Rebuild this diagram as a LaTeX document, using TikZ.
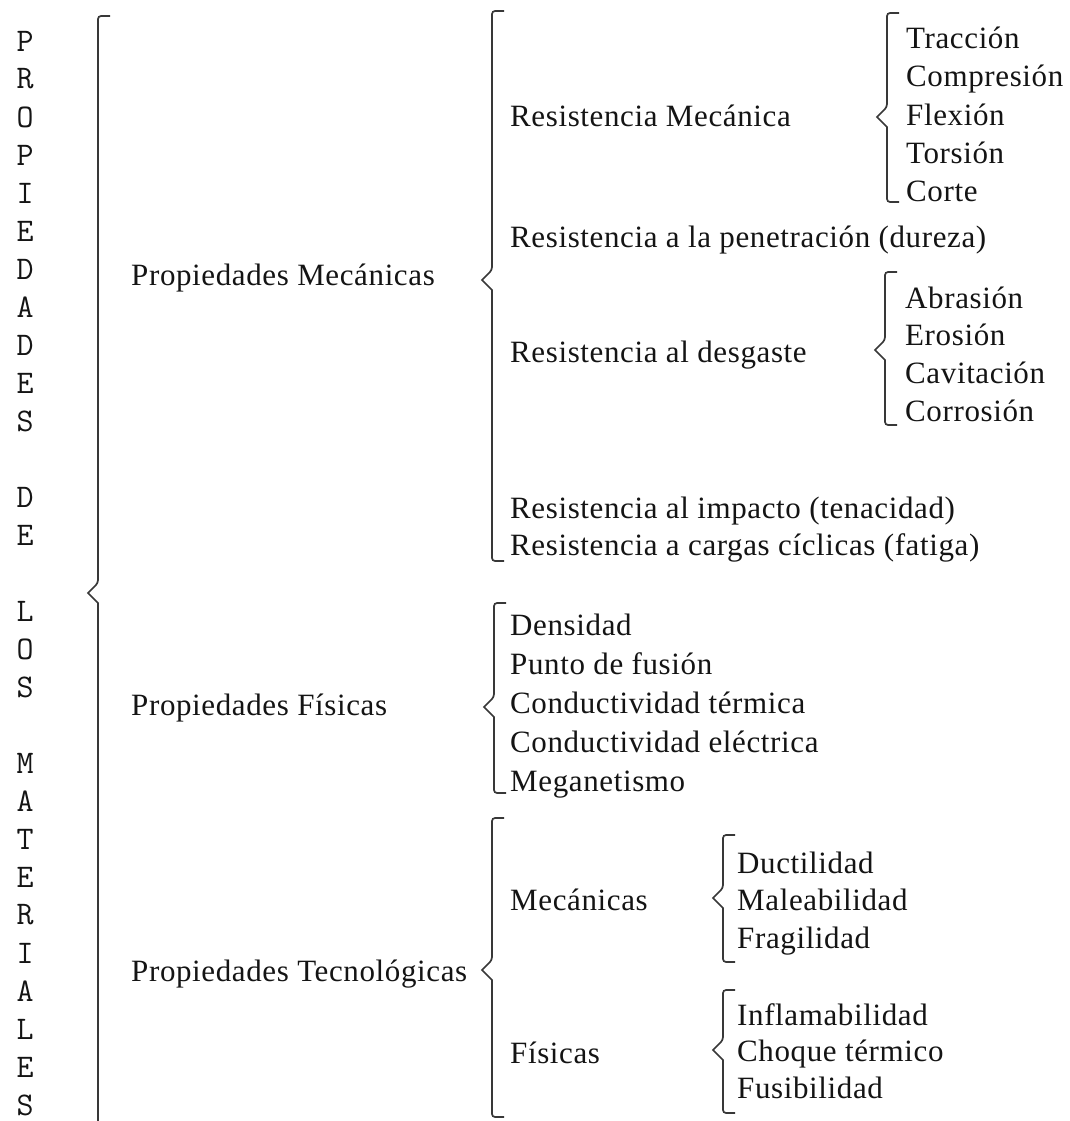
\documentclass[tikz,border=0pt]{standalone}
\usepackage{fontspec}
\setmainfont[LetterSpace=2]{Liberation Serif}
\setmonofont{Latin Modern Mono}
\newcommand\mybrace[4]{% x, top, point y, bottom
  \draw[brc] (#1+12,#2) [rounded corners=3pt] -- (#1,#2) -- (#1,#3-10) [sharp corners] -- (#1-10,#3) -- (#1,#3+10) [rounded corners=3pt] -- (#1,#4) -- (#1+12,#4);}
\begin{document}
\begin{tikzpicture}[x=1pt,y=-1pt,
  lbl/.style={anchor=base west, inner sep=0pt, font=\fontsize{31}{36}\selectfont, text=black!92},
  vl/.style={anchor=center, inner sep=0pt, font=\ttfamily\fontsize{33}{36}\selectfont, text=black!92},
  brc/.style={line width=1.7pt, draw=black!78, line join=miter}]
\useasboundingbox[fill=white] (0,0) rectangle (1070,1121);

% vertical title
\foreach \c [count=\i from 0] in {P,R,O,P,I,E,D,A,D,E,S,{},D,E,{},L,O,S,{},M,A,T,E,R,I,A,L,E,S}
  \node[vl] (v\i) at (25,41+38.0*\i) {\c};

% main brace
\draw[brc] (110,16) [rounded corners=3pt] -- (98,16) -- (98,583) [sharp corners] -- (88,593) -- (98,603) -- (98,1121);

% level 1
\node[lbl] (pm) at (131,285) {Propiedades Mecánicas};
\node[lbl] (pf) at (131,715) {Propiedades Físicas};
\node[lbl] (pt) at (131,981) {Propiedades Tecnológicas};

% mechanical
\mybrace{492}{11}{280}{561}
\node[lbl] (rm) at (510,127) {Resistencia Mecánica};
\node[lbl] (rp) at (510,247) {Resistencia a la penetración (dureza)};
\node[lbl] (rd) at (510,362) {Resistencia al desgaste};
\node[lbl] (ri) at (510,518) {Resistencia al impacto (tenacidad)};
\node[lbl] (rc) at (510,555) {Resistencia a cargas cíclicas (fatiga)};

\mybrace{887}{13}{117}{202}
\node[lbl] (t1) at (906,49) {Tracción};
\node[lbl] (t2) at (906,87) {Compresión};
\node[lbl] (t3) at (906,125) {Flexión};
\node[lbl] (t4) at (906,163) {Torsión};
\node[lbl] (t5) at (906,201) {Corte};

\mybrace{885}{272}{350}{425}
\node[lbl] (d1) at (905,308) {Abrasión};
\node[lbl] (d2) at (905,345) {Erosión};
\node[lbl] (d3) at (905,383) {Cavitación};
\node[lbl] (d4) at (905,421) {Corrosión};

% physical
\mybrace{494}{603}{707}{793}
\node[lbl] (f1) at (510,635) {Densidad};
\node[lbl] (f2) at (510,674) {Punto de fusión};
\node[lbl] (f3) at (510,713) {Conductividad térmica};
\node[lbl] (f4) at (510,752) {Conductividad eléctrica};
\node[lbl] (f5) at (510,791) {Meganetismo};

% technological
\mybrace{492}{818}{970}{1117}
\node[lbl] (tm) at (510,910) {Mecánicas};
\node[lbl] (tf) at (510,1063) {Físicas};

\mybrace{723}{835}{898}{962}
\node[lbl] (m1) at (737,873) {Ductilidad};
\node[lbl] (m2) at (737,910) {Maleabilidad};
\node[lbl] (m3) at (737,948) {Fragilidad};

\mybrace{723}{990}{1050}{1113}
\node[lbl] (p1) at (737,1025) {Inflamabilidad};
\node[lbl] (p2) at (737,1061) {Choque térmico};
\node[lbl] (p3) at (737,1098) {Fusibilidad};
\end{tikzpicture}
\end{document}
